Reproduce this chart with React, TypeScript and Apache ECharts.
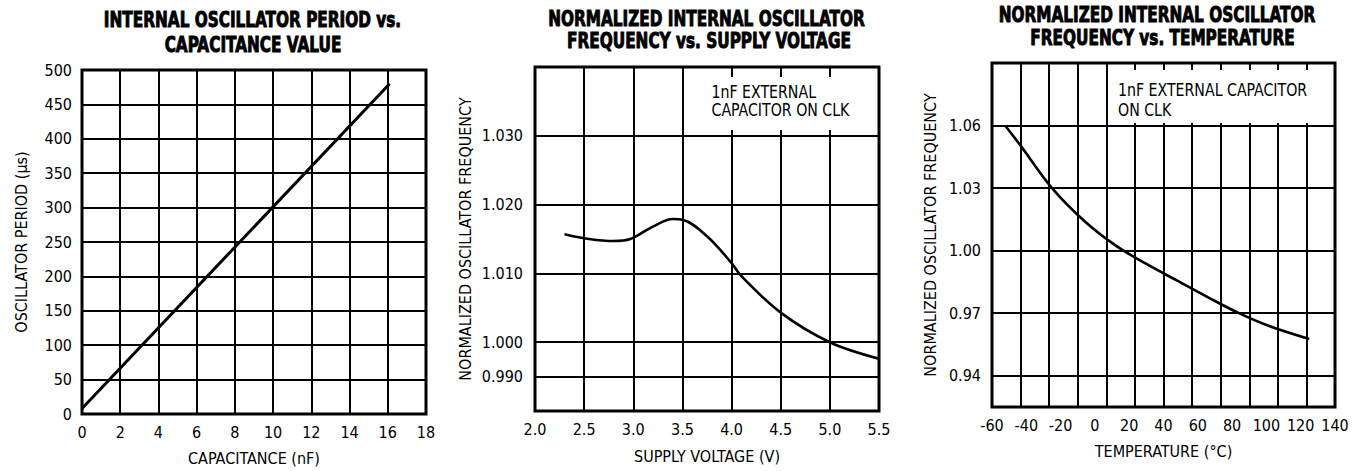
import React, { useEffect, useRef } from "react";
import * as echarts from "echarts";

// ---- Panel 1: period vs capacitance ----
const capacitance = [0, 16.1];
const period = [8, 480];

// ---- Panel 2: normalized frequency vs supply voltage ----
const supplyVoltage = [2.3, 2.55, 2.8, 2.97, 3.2, 3.4, 3.5, 3.75, 4.0, 4.1, 4.5, 5.0, 5.5];
const freqVsVoltage = [1.0157, 1.015, 1.0147, 1.015, 1.0168, 1.0179, 1.0178, 1.0154, 1.0115, 1.0096, 1.0043, 1.0, 0.9976];
const voltageFreqTicks = [0.995, 1.0, 1.01, 1.02, 1.03];
const voltageFreqTickLabels = ["0.990", "1.000", "1.010", "1.020", "1.030"];

// ---- Panel 3: normalized frequency vs temperature ----
const temperature = [-52, -43, -25, -6, 12, 30, 48, 66, 84, 102, 125];
const freqVsTemp = [1.0597, 1.05, 1.03, 1.0141, 1.0025, 0.9936, 0.9856, 0.9776, 0.97, 0.9637, 0.9576];
const tempFreqTicks = [0.94, 0.97, 1.0, 1.03, 1.06];

const titles = [
  ["INTERNAL OSCILLATOR PERIOD vs.", "CAPACITANCE VALUE"],
  ["NORMALIZED INTERNAL OSCILLATOR", "FREQUENCY vs. SUPPLY VOLTAGE"],
  ["NORMALIZED INTERNAL OSCILLATOR", "FREQUENCY vs. TEMPERATURE"],
];
const noteVoltage = ["1nF EXTERNAL", "CAPACITOR ON CLK"];
const noteTemp = ["1nF EXTERNAL CAPACITOR", "ON CLK"];

const FONT = "'DejaVu Sans Condensed', 'Liberation Sans', sans-serif";

export default function App() {
  const ref = useRef<HTMLDivElement>(null);
  useEffect(() => {
    if (!ref.current) return;
    const chart = echarts.init(ref.current, undefined, { renderer: "svg" });
    const labelStyle = { color: "#000", fontFamily: FONT, fontSize: 16 };
    const nameStyle = { color: "#000", fontFamily: FONT, fontSize: 16 };
    const split = { show: true, lineStyle: { color: "#000", width: 2 } };
    const gridBase = { show: true, borderColor: "#000", borderWidth: 3, backgroundColor: "transparent" };
    const common = {
      type: "value" as const,
      axisLine: { show: false },
      axisTick: { show: false },
      nameLocation: "middle" as const,
      nameTextStyle: nameStyle,
    };
    const findLabel = (v: number) => {
      const i = voltageFreqTicks.findIndex((t) => Math.abs(t - v) < 1e-6);
      return i >= 0 ? voltageFreqTickLabels[i] : "";
    };

    const titleEls: any[] = [];
    const titleCenters = [
      [252.5, 19.5, 253, 44.5],
      [706.5, 18.5, 709, 40.5],
      [1157, 15, 1162.5, 38],
    ];
    titles.forEach((t, i) => {
      const c = titleCenters[i];
      [0, 1].forEach((k) => {
        titleEls.push({
          type: "text",
          x: c[k * 2],
          y: c[k * 2 + 1],
          scaleX: 0.81,
          z: 10,
          style: {
            text: t[k],
            font: `bold 21px ${FONT}`,
            fill: "#000",
            stroke: "#000",
            lineWidth: 0.9,
            textAlign: "center",
            textVerticalAlign: "middle",
          },
        });
      });
    });

    const noteEls: any[] = [
      { type: "rect", z: 5, shape: { x: 686, y: 77, width: 191, height: 53 }, style: { fill: "#fff" } },
      { type: "rect", z: 5, shape: { x: 1118, y: 70, width: 215, height: 53 }, style: { fill: "#fff" } },
    ];
    noteVoltage.forEach((s, k) =>
      noteEls.push({
        type: "text", z: 6, x: 711.5, y: k === 0 ? 92 : 110.5, scaleX: 0.9,
        style: { text: s, font: `17.5px ${FONT}`, fill: "#000", textAlign: "left", textVerticalAlign: "middle" },
      })
    );
    noteTemp.forEach((s, k) =>
      noteEls.push({
        type: "text", z: 6, x: 1118, y: k === 0 ? 90 : 110, scaleX: 0.9,
        style: { text: s, font: `17.5px ${FONT}`, fill: "#000", textAlign: "left", textVerticalAlign: "middle" },
      })
    );

    chart.setOption({
      animation: false,
      backgroundColor: "#fff",
      grid: [
        { ...gridBase, left: 82, top: 70, width: 344, height: 346 },
        { ...gridBase, left: 535, top: 67, width: 344, height: 344 },
        { ...gridBase, left: 992, top: 63, width: 343, height: 344 },
      ],
      xAxis: [
        {
          ...common, gridIndex: 0, min: 0, max: 18, interval: 2,
          name: "CAPACITANCE (nF)", nameGap: 36,
          axisLabel: { ...labelStyle, margin: 10 }, splitLine: split,
        },
        {
          ...common, gridIndex: 1, min: 2, max: 5.5, interval: 0.5,
          name: "SUPPLY VOLTAGE (V)", nameGap: 37,
          axisLabel: { ...labelStyle, margin: 10, formatter: (v: number) => v.toFixed(1) }, splitLine: split,
        },
        {
          ...common, gridIndex: 2, min: -60, max: 140, interval: 20,
          name: "TEMPERATURE (°C)", nameGap: 36,
          axisLabel: { ...labelStyle, margin: 10 }, splitLine: { show: false },
        },
        {
          ...common, gridIndex: 2, min: 0, max: 12, interval: 1, position: "top",
          axisLabel: { show: false }, splitLine: split,
        },
      ],
      yAxis: [
        {
          ...common, gridIndex: 0, min: 0, max: 500, interval: 50,
          name: "OSCILLATOR PERIOD (μs)", nameGap: 53,
          axisLabel: { ...labelStyle, margin: 10 }, splitLine: split,
        },
        {
          ...common, gridIndex: 1, min: 0.99, max: 1.04,
          name: "NORMALIZED OSCILLATOR FREQUENCY", nameGap: 62,
          axisTick: { show: false, customValues: voltageFreqTicks },
          axisLabel: { ...labelStyle, margin: 12, customValues: voltageFreqTicks, formatter: findLabel },
          splitLine: split,
        },
        {
          ...common, gridIndex: 2, min: 0.925, max: 1.09,
          name: "NORMALIZED OSCILLATOR FREQUENCY", nameGap: 54,
          axisTick: { show: false, customValues: tempFreqTicks },
          axisLabel: { ...labelStyle, margin: 11, customValues: tempFreqTicks, formatter: (v: number) => v.toFixed(2) },
          splitLine: split,
        },
      ],
      series: [
        {
          type: "line", xAxisIndex: 0, yAxisIndex: 0, symbol: "none", z: 3,
          data: capacitance.map((c, i) => [c, period[i]]),
          lineStyle: { color: "#000", width: 3 },
        },
        {
          type: "line", xAxisIndex: 1, yAxisIndex: 1, symbol: "none", z: 3, smooth: 0.35,
          data: supplyVoltage.map((v, i) => [v, freqVsVoltage[i]]),
          lineStyle: { color: "#000", width: 2.6 },
        },
        {
          type: "line", xAxisIndex: 2, yAxisIndex: 2, symbol: "none", z: 3, smooth: 0.35,
          data: temperature.map((t, i) => [t, freqVsTemp[i]]),
          lineStyle: { color: "#000", width: 2.6 },
        },
      ],
      graphic: [...titleEls, ...noteEls],
    });
    return () => chart.dispose();
  }, []);
  return (
    <div
      ref={ref}
      style={{ position: "absolute", left: 0, top: 0, width: 1364, height: 471, background: "#fff" }}
    />
  );
}
